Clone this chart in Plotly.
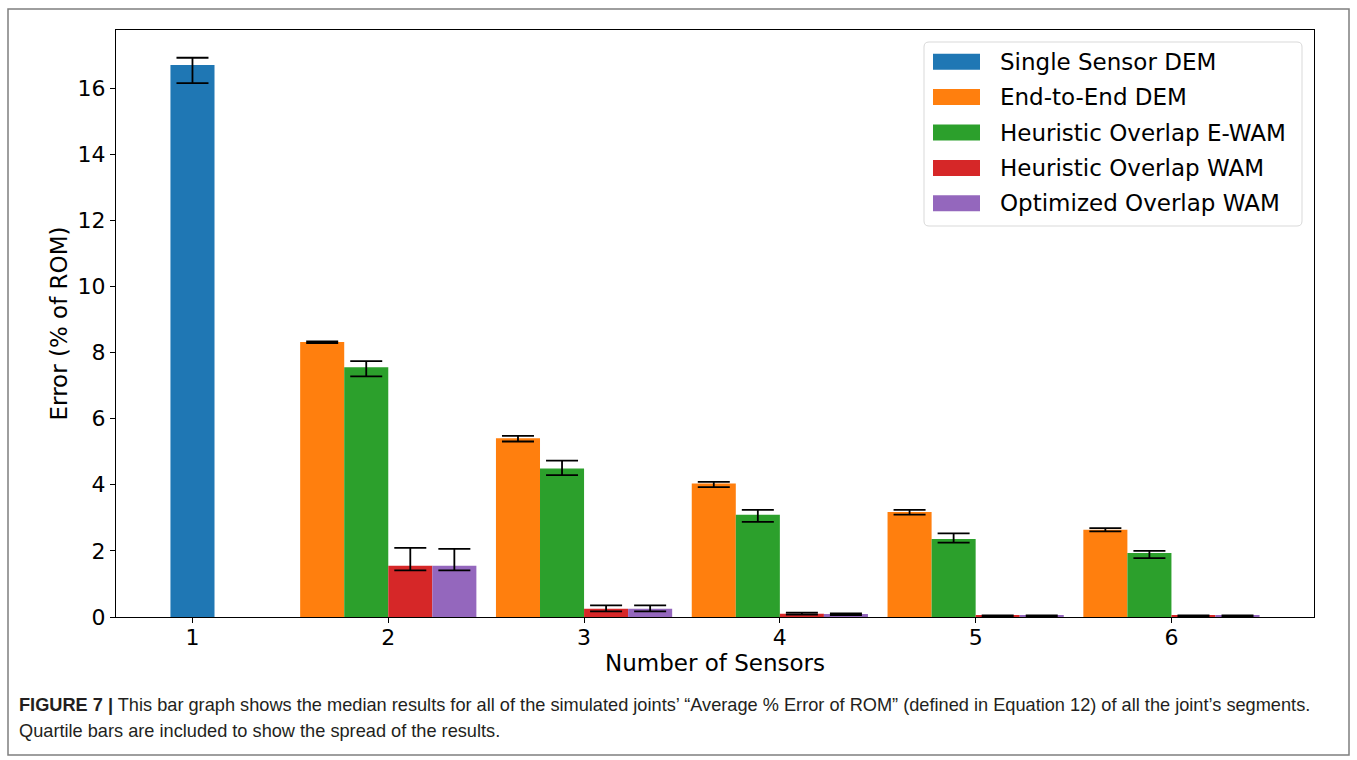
import plotly.graph_objects as go

# ---- data: median and quartiles of "Average % Error of ROM" ----
sensor_counts = [1, 2, 3, 4, 5, 6]
series_names = [
    "Single Sensor DEM",
    "End-to-End DEM",
    "Heuristic Overlap E-WAM",
    "Heuristic Overlap WAM",
    "Optimized Overlap WAM",
]
series_colors = ["#1f77b4", "#ff7f0e", "#2ca02c", "#d62728", "#9467bd"]

single_x = [1]
single_median = [16.70]
single_q1 = [16.15]
single_q3 = [16.92]

multi_x = [2, 3, 4, 5, 6]
e2e_median = [8.32, 5.41, 4.04, 3.18, 2.64]
e2e_q1 = [8.29, 5.31, 3.93, 3.10, 2.59]
e2e_q3 = [8.34, 5.48, 4.09, 3.24, 2.69]

hewam_median = [7.56, 4.49, 3.09, 2.36, 1.94]
hewam_q1 = [7.28, 4.29, 2.88, 2.25, 1.78]
hewam_q3 = [7.74, 4.73, 3.24, 2.53, 2.00]

hwam_median = [1.55, 0.25, 0.10, 0.04, 0.04]
hwam_q1 = [1.41, 0.17, 0.07, 0.03, 0.03]
hwam_q3 = [2.09, 0.35, 0.13, 0.05, 0.05]

owam_median = [1.55, 0.25, 0.09, 0.04, 0.04]
owam_q1 = [1.41, 0.17, 0.06, 0.03, 0.03]
owam_q3 = [2.06, 0.35, 0.11, 0.05, 0.05]

y_ticks = [0, 2, 4, 6, 8, 10, 12, 14, 16]

# ---- layout constants ----
W, H = 1357, 760
M_L, M_R, M_T, M_B = 116, 43, 30, 143
BAR_W = 0.225
FONT = "DejaVu Sans"

series = [
    (single_x, single_median, single_q1, single_q3, 0.0),
    (multi_x, e2e_median, e2e_q1, e2e_q3, -1.5),
    (multi_x, hewam_median, hewam_q1, hewam_q3, -0.5),
    (multi_x, hwam_median, hwam_q1, hwam_q3, 0.5),
    (multi_x, owam_median, owam_q1, owam_q3, 1.5),
]

fig = go.Figure()
for (xs, med, q1, q3, off), name, col in zip(series, series_names, series_colors):
    fig.add_trace(go.Bar(
        x=[x + off * BAR_W for x in xs],
        y=med,
        width=BAR_W,
        name=name,
        marker=dict(color=col, line=dict(width=0)),
        error_y=dict(
            type="data", symmetric=False,
            array=[h - m for h, m in zip(q3, med)],
            arrayminus=[m - l for m, l in zip(med, q1)],
            color="black", thickness=1.8, width=16,
        ),
        showlegend=False,
    ))

# pixel -> paper helpers
PW = W - M_L - M_R
PH = H - M_T - M_B
def px(x):
    return (x - M_L) / PW
def py(y):
    return (H - M_B - y) / PH

shapes = []
annotations = []

# outer frame around figure and caption
shapes.append(dict(type="rect", xref="paper", yref="paper",
                   x0=px(8), x1=px(1349), y0=py(755), y1=py(9),
                   line=dict(color="#7f7f7f", width=1.5), fillcolor="rgba(0,0,0,0)"))

# legend box (rounded)
lx0, lx1, ly0, ly1, r = 924, 1302, 42, 226, 5
path = (f"M {px(lx0 + r)},{py(ly0)} L {px(lx1 - r)},{py(ly0)} "
        f"Q {px(lx1)},{py(ly0)} {px(lx1)},{py(ly0 + r)} "
        f"L {px(lx1)},{py(ly1 - r)} Q {px(lx1)},{py(ly1)} {px(lx1 - r)},{py(ly1)} "
        f"L {px(lx0 + r)},{py(ly1)} Q {px(lx0)},{py(ly1)} {px(lx0)},{py(ly1 - r)} "
        f"L {px(lx0)},{py(ly0 + r)} Q {px(lx0)},{py(ly0)} {px(lx0 + r)},{py(ly0)} Z")
shapes.append(dict(type="path", xref="paper", yref="paper", path=path,
                   line=dict(color="#d9d9d9", width=1), fillcolor="rgba(255,255,255,0.8)"))
row0, row_gap = 61.7, 35.4
for i, (name, col) in enumerate(zip(series_names, series_colors)):
    cy = row0 + i * row_gap
    shapes.append(dict(type="rect", xref="paper", yref="paper",
                       x0=px(933), x1=px(980), y0=py(cy + 8), y1=py(cy - 8),
                       line=dict(width=0), fillcolor=col))
    annotations.append(dict(xref="paper", yref="paper", x=px(998), y=py(cy),
                            xanchor="left", yanchor="middle", showarrow=False,
                            text=name, font=dict(family=FONT, size=23, color="black")))

# caption
cap_font = dict(family="Liberation Sans Narrow, Arial Narrow, Liberation Sans, sans-serif",
                size=18.2, color="#231f20")
annotations.append(dict(
    xref="paper", yref="paper", x=px(17), y=py(705), xanchor="left", yanchor="middle",
    showarrow=False, font=cap_font,
    text="<b>FIGURE 7 |</b> This bar graph shows the median results for all of the simulated joints\u2019 "
         "\u201cAverage % Error of ROM\u201d (defined in Equation 12) of all the joint\u2019s segments."))
annotations.append(dict(
    xref="paper", yref="paper", x=px(17), y=py(731), xanchor="left", yanchor="middle",
    showarrow=False, font=cap_font,
    text="Quartile bars are included to show the spread of the results."))

axis_common = dict(
    showline=True, linecolor="black", linewidth=1.2, mirror=True,
    ticks="outside", ticklen=5, tickwidth=1.2, tickcolor="black",
    showgrid=False, zeroline=False,
    tickfont=dict(family=FONT, size=22, color="black"),
)

fig.update_layout(
    width=W, height=H,
    margin=dict(l=M_L, r=M_R, t=M_T, b=M_B, autoexpand=False),
    paper_bgcolor="white", plot_bgcolor="white",
    barmode="overlay",
    xaxis=dict(range=[0.6094, 6.7281], tickmode="array", tickvals=sensor_counts,
               ticktext=[str(s) for s in sensor_counts],
               ticklabelstandoff=-5,
               title=dict(text="Number of Sensors", font=dict(family=FONT, size=23, color="black"),
                          standoff=6),
               **axis_common),
    yaxis=dict(range=[0, 17.76], tickmode="array", tickvals=y_ticks,
               ticktext=[str(t) for t in y_ticks],
               title=dict(text="Error (% of ROM)", font=dict(family=FONT, size=23, color="black"),
                          standoff=3),
               **axis_common),
    shapes=shapes,
    annotations=annotations,
)

fig.write_html("out.html")
